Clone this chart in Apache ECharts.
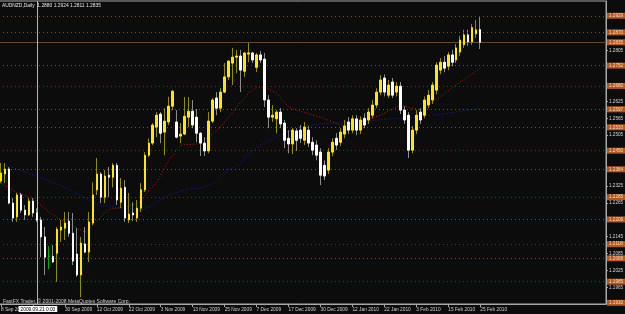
<!DOCTYPE html>
<html><head><meta charset="utf-8">
<script src="https://cdn.jsdelivr.net/npm/echarts@6/dist/echarts.min.js"></script>
<style>html,body{margin:0;padding:0;background:#0c0c0c;}#c{width:625px;height:314px;}</style>
</head><body><div id="c"></div><script>
const dates = ["8 Sep 2009","9 Sep 2009","10 Sep 2009","11 Sep 2009","14 Sep 2009","15 Sep 2009","16 Sep 2009","17 Sep 2009","18 Sep 2009","21 Sep 2009","22 Sep 2009","23 Sep 2009","24 Sep 2009","25 Sep 2009","28 Sep 2009","29 Sep 2009","30 Sep 2009",
"1 Oct 2009","2 Oct 2009","5 Oct 2009","6 Oct 2009","7 Oct 2009","8 Oct 2009","9 Oct 2009","12 Oct 2009","13 Oct 2009","14 Oct 2009","15 Oct 2009","16 Oct 2009","19 Oct 2009","20 Oct 2009","21 Oct 2009","22 Oct 2009","23 Oct 2009","26 Oct 2009","27 Oct 2009","28 Oct 2009","29 Oct 2009","30 Oct 2009",
"2 Nov 2009","3 Nov 2009","4 Nov 2009","5 Nov 2009","6 Nov 2009","9 Nov 2009","10 Nov 2009","11 Nov 2009","12 Nov 2009","13 Nov 2009","16 Nov 2009","17 Nov 2009","18 Nov 2009","19 Nov 2009","20 Nov 2009","23 Nov 2009","24 Nov 2009","25 Nov 2009","26 Nov 2009","27 Nov 2009","30 Nov 2009",
"1 Dec 2009","2 Dec 2009","3 Dec 2009","4 Dec 2009","7 Dec 2009","8 Dec 2009","9 Dec 2009","10 Dec 2009","11 Dec 2009","14 Dec 2009","15 Dec 2009","16 Dec 2009","17 Dec 2009","18 Dec 2009","21 Dec 2009","22 Dec 2009","23 Dec 2009","24 Dec 2009","28 Dec 2009","29 Dec 2009","30 Dec 2009","31 Dec 2009",
"4 Jan 2010","5 Jan 2010","6 Jan 2010","7 Jan 2010","8 Jan 2010","11 Jan 2010","12 Jan 2010","13 Jan 2010","14 Jan 2010","15 Jan 2010","18 Jan 2010","19 Jan 2010","20 Jan 2010","21 Jan 2010","22 Jan 2010","25 Jan 2010","26 Jan 2010","27 Jan 2010","28 Jan 2010","29 Jan 2010",
"1 Feb 2010","2 Feb 2010","3 Feb 2010","4 Feb 2010","5 Feb 2010","8 Feb 2010","9 Feb 2010","10 Feb 2010","11 Feb 2010","12 Feb 2010","15 Feb 2010","16 Feb 2010","17 Feb 2010","18 Feb 2010","19 Feb 2010","22 Feb 2010","23 Feb 2010","24 Feb 2010","25 Feb 2010"];

const opens = [1.2342,1.2367,1.2385,1.2264,1.2215,1.2293,1.2239,1.2222,1.2271,1.2229,
1.2204,1.2144,1.2075,1.2075,1.2086,1.2168,1.2175,1.2200,1.2157,1.2083,
1.2009,1.2119,1.2090,1.2193,1.2311,1.2367,1.2285,1.2363,1.2356,1.2398,
1.2267,1.2320,1.2204,1.2229,1.2211,1.2246,1.2311,1.2434,1.2477,1.2534,
1.2580,1.2516,1.2552,1.2608,1.2552,1.2502,1.2509,1.2569,1.2590,1.2569,
1.2512,1.2477,1.2449,1.2555,1.2637,1.2601,1.2658,1.2712,1.2761,1.2782,
1.2786,1.2732,1.2793,1.2797,1.2746,1.2790,1.2775,1.2630,1.2569,1.2563,
1.2587,1.2548,1.2494,1.2474,1.2520,1.2523,1.2487,1.2523,1.2480,1.2470,
1.2445,1.2398,1.2381,1.2445,1.2494,1.2480,1.2509,1.2552,1.2523,1.2563,
1.2523,1.2565,1.2559,1.2576,1.2612,1.2658,1.2708,1.2647,1.2694,1.2658,
1.2679,1.2594,1.2576,1.2452,1.2523,1.2587,1.2576,1.2612,1.2630,1.2665,
1.2736,1.2764,1.2750,1.2790,1.2772,1.2800,1.2826,1.2861,1.2836,1.2865,1.2880];
const closes = [1.2371,1.2385,1.2264,1.2211,1.2293,1.2239,1.2222,1.2271,1.2229,1.2204,
1.2144,1.2072,1.2075,1.2055,1.2171,1.2179,1.2193,1.2157,1.2058,1.2009,
1.2122,1.2090,1.2197,1.2293,1.2367,1.2285,1.2360,1.2356,1.2398,1.2275,
1.2317,1.2211,1.2225,1.2222,1.2246,1.2311,1.2434,1.2477,1.2541,1.2576,
1.2512,1.2555,1.2608,1.2661,1.2498,1.2509,1.2572,1.2590,1.2541,1.2512,
1.2477,1.2449,1.2555,1.2630,1.2601,1.2658,1.2712,1.2768,1.2782,1.2786,
1.2736,1.2797,1.2797,1.2772,1.2790,1.2772,1.2630,1.2569,1.2576,1.2587,
1.2545,1.2487,1.2474,1.2523,1.2487,1.2494,1.2534,1.2477,1.2452,1.2434,
1.2363,1.2360,1.2445,1.2480,1.2470,1.2516,1.2538,1.2523,1.2563,1.2523,
1.2559,1.2541,1.2587,1.2612,1.2658,1.2701,1.2658,1.2683,1.2647,1.2679,
1.2594,1.2559,1.2452,1.2523,1.2576,1.2559,1.2630,1.2647,1.2683,1.2754,
1.2764,1.2743,1.2790,1.2764,1.2815,1.2843,1.2861,1.2836,1.2887,1.2879,1.2835];
const lows = [1.2335,1.2335,1.2260,1.2197,1.2197,1.2229,1.2204,1.2218,1.2215,1.2197,
1.2072,1.2009,1.2030,1.2051,1.1984,1.2126,1.2133,1.2144,1.2044,1.2002,
1.1930,1.2086,1.2055,1.2186,1.2293,1.2264,1.2264,1.2285,1.2320,1.2257,
1.2246,1.2197,1.2193,1.2200,1.2197,1.2232,1.2303,1.2427,1.2470,1.2498,
1.2477,1.2434,1.2541,1.2594,1.2494,1.2477,1.2505,1.2534,1.2530,1.2480,
1.2431,1.2431,1.2441,1.2548,1.2576,1.2587,1.2654,1.2701,1.2683,1.2725,
1.2658,1.2712,1.2764,1.2761,1.2729,1.2761,1.2605,1.2530,1.2552,1.2512,
1.2530,1.2459,1.2441,1.2438,1.2449,1.2477,1.2470,1.2463,1.2434,1.2416,
1.2328,1.2346,1.2367,1.2431,1.2452,1.2467,1.2494,1.2509,1.2512,1.2505,
1.2509,1.2530,1.2545,1.2565,1.2601,1.2647,1.2643,1.2637,1.2637,1.2643,
1.2580,1.2545,1.2424,1.2441,1.2509,1.2545,1.2565,1.2601,1.2616,1.2650,
1.2722,1.2729,1.2736,1.2750,1.2761,1.2786,1.2815,1.2822,1.2826,1.2851,1.2811];
const highs = [1.2406,1.2406,1.2392,1.2282,1.2300,1.2300,1.2257,1.2282,1.2282,1.2246,
1.2215,1.2179,1.2111,1.2115,1.2179,1.2204,1.2232,1.2232,1.2229,1.2175,
1.2144,1.2179,1.2232,1.2338,1.2424,1.2374,1.2381,1.2392,1.2406,1.2406,
1.2353,1.2346,1.2300,1.2267,1.2275,1.2335,1.2445,1.2494,1.2548,1.2587,
1.2587,1.2601,1.2641,1.2665,1.2594,1.2548,1.2641,1.2641,1.2630,1.2598,
1.2516,1.2498,1.2587,1.2637,1.2658,1.2672,1.2761,1.2772,1.2815,1.2808,
1.2808,1.2800,1.2836,1.2800,1.2797,1.2804,1.2797,1.2647,1.2612,1.2594,
1.2601,1.2559,1.2523,1.2530,1.2530,1.2541,1.2552,1.2538,1.2498,1.2487,
1.2459,1.2416,1.2459,1.2494,1.2512,1.2530,1.2559,1.2569,1.2576,1.2576,
1.2572,1.2583,1.2601,1.2630,1.2672,1.2718,1.2721,1.2701,1.2708,1.2694,
1.2694,1.2608,1.2587,1.2538,1.2594,1.2601,1.2643,1.2665,1.2694,1.2764,
1.2779,1.2786,1.2800,1.2808,1.2829,1.2858,1.2879,1.2879,1.2900,1.2914,1.2924];

// moving averages: [bar index, value]
const maRed = [[0,1.2335],[4,1.2300],[8,1.2282],[10,1.2257],[13,1.2222],[16,1.2197],[19,1.2175],[21,1.2161],[23,1.2186],[25,1.2215],[27,1.2242],[31,1.2250],[35,1.2268],[37,1.2311],[39,1.2338],[42,1.2416],[45,1.2470],[49,1.2474],[51,1.2487],[55,1.2534],[59,1.2605],[62,1.2654],[64,1.2676],[66,1.2676],[69,1.2654],[72,1.2605],[74,1.2594],[80,1.2569],[85,1.2541],[90,1.2552],[95,1.2576],[100,1.2612],[105,1.2594],[110,1.2641],[115,1.2694],[120,1.2743]];
const maBlue = [[0,1.2406],[10,1.2353],[16,1.2320],[22,1.2275],[25,1.2257],[30,1.2246],[35,1.2239],[37,1.2250],[42,1.2293],[47,1.2314],[50,1.2317],[54,1.2338],[57,1.2381],[60,1.2406],[62,1.2441],[65,1.2470],[69,1.2498],[74,1.2534],[80,1.2545],[90,1.2555],[100,1.2565],[110,1.2579],[120,1.2601]];

const levelPrices = [1.2929,1.2870,1.2752,1.2680,1.2597,1.2533,1.2450,1.2384,1.2285,1.2206,1.2118,1.2068,1.1985,1.1910];
const levelRed    = [false,false,false,true,false,false,true,false,true,false,true,false,true,false];
const bidPrice = 1.2835;
const yLabels = [1.1965,1.2025,1.2085,1.2145,1.2265,1.2325,1.2505,1.2565,1.2625,1.2805];
const yMin = 1.19058, yMax = 1.29814;
const titleText = 'AUDNZD,Daily  1.2880 1.2924 1.2811 1.2835';
const copyText = 'FastFX Trader, \u00a9 2001-2008 MetaQuotes Software Corp.';
const vlineIndex = 9;
const vlineText = '2009.09.21 0:00';

const FONT = "'Liberation Sans',Arial,sans-serif";
const N = 152;
const cats = dates.slice();
for (let i = cats.length; i < N; i++) cats.push('_' + i);
const ohlc = opens.map((o, i) => [o, closes[i], lows[i], highs[i]]);
const bodies = opens.map((o, i) => [o, closes[i], Math.min(o, closes[i]), Math.max(o, closes[i])]);
const showIdx = i => i % 8 === 0 && i < dates.length;

const lbl = (txt) => ({show: true, position: 'end', distance: 1, formatter: txt, color: '#f2dcc6',
          backgroundColor: '#b5581f', fontSize: 4.6, fontFamily: FONT, padding: [1, 3, 0, 2]});
const levelLines = levelPrices.map((p, i) => ({
  yAxis: p,
  lineStyle: {color: levelRed[i] ? '#8c1e14' : '#8a4a1e', type: [1, 3], width: 1},
  label: lbl(p.toFixed(4))
}));
levelLines.push({yAxis: bidPrice, lineStyle: {color: '#5e4a3a', type: 'solid', width: 1}, label: lbl(bidPrice.toFixed(4))});

const chart = echarts.init(document.getElementById('c'));
chart.setOption({
  backgroundColor: '#0c0c0c',
  animation: false,
  grid: {left: -1, right: 19, top: 1, bottom: 10, show: true, borderColor: '#a8a8a8', borderWidth: 1,
         containLabel: false, outerBoundsMode: 'none'},
  xAxis: {
    type: 'category', data: cats, boundaryGap: true,
    axisLine: {show: true, lineStyle: {color: '#a8a8a8'}},
    axisTick: {show: true, interval: (i) => showIdx(i), alignWithLabel: true, length: 3, lineStyle: {color: '#a8a8a8'}},
    axisLabel: {show: true, interval: (i) => showIdx(i) && i !== 8, align: 'left', margin: 3,
                color: '#d0d0d0', fontSize: 4.8, fontFamily: FONT, hideOverlap: false},
    splitLine: {show: false}
  },
  yAxis: {
    type: 'value', position: 'right', min: yMin, max: yMax,
    axisLine: {show: true, lineStyle: {color: '#a8a8a8'}},
    axisTick: {show: true, customValues: yLabels, length: 2, lineStyle: {color: '#a8a8a8'}},
    axisLabel: {show: true, customValues: yLabels, formatter: v => v.toFixed(4), margin: 3,
                color: '#d8d8d8', fontSize: 4.6, fontFamily: FONT},
    splitLine: {show: false}
  },
  series: [
    {type: 'line', data: [], z: 1, silent: true,
     markLine: {silent: true, precision: 5, symbol: ['none', 'none'], animation: false, data: levelLines}},
    {type: 'line', data: [], z: 1, silent: true,
     markLine: {silent: true, precision: 5, symbol: ['none', 'none'], animation: false,
                data: [{xAxis: vlineIndex, lineStyle: {color: '#b4b4b4', type: 'solid', width: 1}, label: {show: false}}]}},
    {type: 'line', data: maBlue, z: 3, symbol: 'none', silent: true,
     lineStyle: {color: '#1c1cb4', width: 1, type: [1, 2]}},
    {type: 'line', data: maRed, z: 3, symbol: 'none', silent: true,
     lineStyle: {color: '#c01818', width: 1, type: [1, 2]}},
    {type: 'candlestick', data: ohlc, z: 4, barWidth: 1, silent: true,
     itemStyle: {color: '#8c8c10', color0: '#8c8c8c', borderColor: '#8c8c10', borderColor0: '#8c8c8c',
                 borderColorDoji: '#00b000', borderWidth: 1}},
    {type: 'candlestick', data: bodies, z: 5, barWidth: 2, silent: true,
     itemStyle: {color: '#ffe800', color0: '#ffffff', borderColor: '#ffe800', borderColor0: '#ffffff',
                 borderColorDoji: '#00c000', borderWidth: 1}}
  ]
});

const vx = chart.convertToPixel({xAxisIndex: 0}, vlineIndex);
chart.setOption({
  graphic: [
    {type: 'text', left: 2, top: 3, z: 10, style: {text: titleText, fill: '#e8e8e8', fontSize: 4.9, fontFamily: FONT}},
    {type: 'text', left: 3, top: 299, z: 10, style: {text: copyText, fill: '#d0d0d0', fontSize: 5, fontFamily: FONT}},
    {type: 'text', x: vx + 1, y: 306, z: 10, style: {text: vlineText, fill: '#000000', backgroundColor: '#ffffff',
      padding: [1, 2, 0, 2], fontSize: 4.8, fontFamily: FONT, align: 'center'}}
  ]
});
</script></body></html>
